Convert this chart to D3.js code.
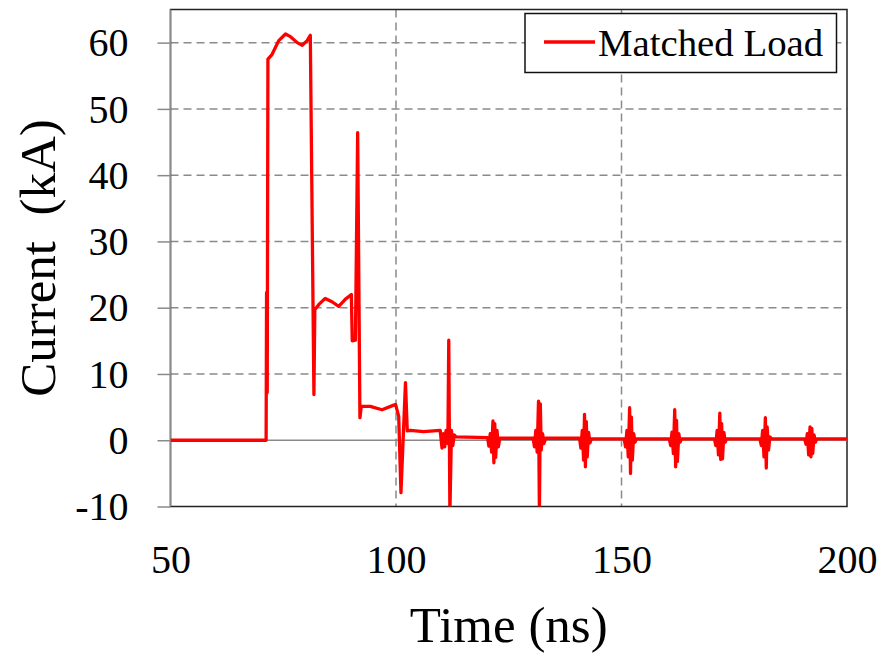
<!DOCTYPE html>
<html><head><meta charset="utf-8">
<script src="https://cdn.jsdelivr.net/npm/d3@7"></script>
<style>html,body{margin:0;padding:0;background:#fff;}svg{display:block;}</style>
</head><body>
<svg id="chart" width="885" height="654"></svg>
<script>
// Data
const seriesName = "Matched Load";
const xTicks = [50, 100, 150, 200];
const yTicks = [-10, 0, 10, 20, 30, 40, 50, 60];
const xGrid = [100, 150];
const yGrid = [10, 20, 30, 40, 50, 60];
const timeNs = [
  50, 71.2, 71.3, 71.45, 71.6, 72.5, 74.0, 75.5, 76.6, 78.1, 79.2, 80.3, 81.0,
  81.8, 82.0, 82.9, 84.3, 85.8, 87.3, 88.8, 90.1, 90.3, 91.0, 91.5, 92.0, 92.3,
  94.3, 96.9, 99.5, 99.9, 100.6, 101.1, 102.1, 102.5, 103.2, 106.1, 109.8,
  110.2, 110.5, 110.8, 111.1, 111.5, 111.7, 111.95, 112.3, 112.6, 112.9, 113.3,
  120.3, 120.6, 120.9, 121.2, 121.5, 121.7, 121.9, 122.1, 122.4, 122.7, 123.0,
  130.4, 130.7, 131.0, 131.3, 131.6, 131.8, 132.0, 132.2, 132.5, 132.8, 133.2,
  140.7, 141.0, 141.3, 141.6, 141.8, 142.0, 142.2, 142.4, 142.7, 143.0, 143.3,
  150.6, 150.9, 151.2, 151.5, 151.8, 152.0, 152.2, 152.4, 152.7, 153.0, 153.3,
  160.6, 160.9, 161.2, 161.5, 161.8, 162.0, 162.2, 162.4, 162.7, 163.0, 163.3,
  170.6, 170.9, 171.2, 171.5, 171.8, 172.0, 172.2, 172.4, 172.7, 173.0, 173.3,
  180.7, 181.0, 181.3, 181.6, 181.9, 182.1, 182.3, 182.6, 182.9, 183.3,
  190.6, 190.9, 191.2, 191.5, 191.8, 192.0, 192.2, 192.4, 192.7, 193.0, 193.3,
  200
];
const currentKA = [
  0, 0, 22.3, 7.2, 57.5, 58.2, 60.3, 61.3, 60.9, 60.0, 59.6, 60.3, 61.1,
  6.9, 19.7, 20.5, 21.4, 20.9, 20.2, 21.3, 22.0, 15.0, 15.1, 46.4, 3.4, 5.1,
  5.1, 4.6, 5.3, 5.4, 3.6, -7.9, 8.7, 1.4, 1.5, 1.3, 1.5,
  -1.2, 1.0, -1.0, 1.5, -0.5, 15.1, -11, 1.5, -0.8, 0.8, 0.5,
  0.4, -0.9, 1.0, -1.8, 2.9, -3.4, 2.5, -2.6, 1.5, -1.0, 0.3,
  0.3, -1.0, 1.5, -1.8, 5.9, -11, 5.5, -1.5, 1.0, -0.5, 0.3,
  0.3, -1.2, 1.5, -3.0, 3.9, -4.0, 2.8, -2.5, 1.2, -0.4, 0.2,
  0.2, -1.0, 1.5, -2.5, 4.9, -5.0, 3.5, -3.0, 1.0, -0.3, 0.2,
  0.2, -0.8, 1.2, -2.0, 4.6, -4.0, 3.0, -3.2, 1.0, -0.3, 0.2,
  0.2, -0.8, 1.5, -2.2, 4.1, -2.9, 2.5, -2.8, 1.2, -0.3, 0.2,
  0.2, -0.8, 1.5, -2.5, 3.4, -4.2, 2.0, -1.5, 0.5, 0.2,
  0.2, -0.6, 1.0, -2.2, 2.0, -2.5, 1.8, -2.0, 0.8, -0.3, 0.2,
  0.2
];

const svg = d3.select("#chart");
const pLeft = 170.5, pRight = 847, pTop = 9.5, pBottom = 506.5;
const x = d3.scaleLinear().domain([50, 200]).range([pLeft, pRight]);
const y = d3.scaleLinear().domain([-10, 65]).range([pBottom, pTop]);
const serif = "'Liberation Serif','Times New Roman',serif";
const gridColor = "#8a8a8a";
const fmt = d => String(d);

// gridlines
svg.append("g").selectAll("line").data(yGrid).join("line")
  .attr("x1", pLeft).attr("x2", pRight)
  .attr("y1", d => y(d)).attr("y2", d => y(d))
  .attr("stroke", gridColor).attr("stroke-width", 1.5).attr("stroke-dasharray", "8,5");
svg.append("g").selectAll("line").data(xGrid).join("line")
  .attr("x1", d => x(d)).attr("x2", d => x(d))
  .attr("y1", pTop).attr("y2", pBottom)
  .attr("stroke", gridColor).attr("stroke-width", 1.5).attr("stroke-dasharray", "8,5");

// plot border
svg.append("rect").attr("x", pLeft).attr("y", pTop)
  .attr("width", pRight - pLeft).attr("height", pBottom - pTop)
  .attr("fill", "none").attr("stroke", "#222").attr("stroke-width", 1.5);

// y axis (left, outside ticks)
const yAxis = d3.axisLeft(y).tickValues(yTicks).tickSize(13).tickPadding(29).tickFormat(fmt);
const gy = svg.append("g").attr("transform", `translate(${pLeft},0)`).call(yAxis);
gy.select(".domain").attr("stroke", gridColor).attr("stroke-width", 1.5)
  .attr("d", `M0,${pBottom}V${pTop}`);
gy.selectAll(".tick line").attr("stroke", gridColor).attr("stroke-width", 1.5);
gy.selectAll(".tick text").attr("font-family", serif).attr("font-size", 40)
  .attr("fill", "#000").attr("dy", "0.33em");

// zero line (x axis line at y=0)
svg.append("line").attr("x1", pLeft).attr("x2", pRight)
  .attr("y1", y(0)).attr("y2", y(0))
  .attr("stroke", gridColor).attr("stroke-width", 1.5);

// x axis labels (low position)
const xAxis = d3.axisBottom(x).tickValues(xTicks).tickSize(0).tickPadding(39).tickFormat(fmt);
const gx = svg.append("g").attr("transform", `translate(0,${pBottom})`).call(xAxis);
gx.select(".domain").remove();
gx.selectAll(".tick text").attr("font-family", serif).attr("font-size", 40).attr("fill", "#000")
  .attr("dy", "0").attr("y", 66.5);

// data line
svg.append("clipPath").attr("id", "clip").append("rect")
  .attr("x", pLeft).attr("y", pTop).attr("width", pRight - pLeft).attr("height", pBottom - pTop);
const pts = timeNs.map((t, i) => [t, currentKA[i]]);
const line = d3.line().x(d => x(d[0])).y(d => y(d[1]));
svg.append("path").datum(pts).attr("d", line).attr("clip-path", "url(#clip)")
  .attr("fill", "none").attr("stroke", "#ff0000").attr("stroke-width", 3.3)
  .attr("stroke-linejoin", "round");

// axis titles
svg.append("text").attr("x", (pLeft + pRight) / 2).attr("y", 641.5)
  .attr("text-anchor", "middle").attr("font-family", serif).attr("font-size", 51)
  .text("Time (ns)");
svg.append("text").attr("transform", `translate(55,${(pTop + pBottom) / 2}) rotate(-90)`)
  .attr("text-anchor", "middle").attr("font-family", serif).attr("font-size", 51)
  .style("white-space", "pre").text("Current  (kA)");

// legend
const lg = svg.append("g");
lg.append("rect").attr("x", 525).attr("y", 13.5).attr("width", 311.5).attr("height", 59)
  .attr("fill", "#fff").attr("stroke", "#111").attr("stroke-width", 1.5);
lg.append("line").attr("x1", 544).attr("x2", 595).attr("y1", 42).attr("y2", 42)
  .attr("stroke", "#ff0000").attr("stroke-width", 3.3);
lg.append("text").attr("x", 598).attr("y", 55.5).attr("font-family", serif)
  .attr("font-size", 38.8).attr("fill", "#000").text(seriesName);
</script>
</body></html>
